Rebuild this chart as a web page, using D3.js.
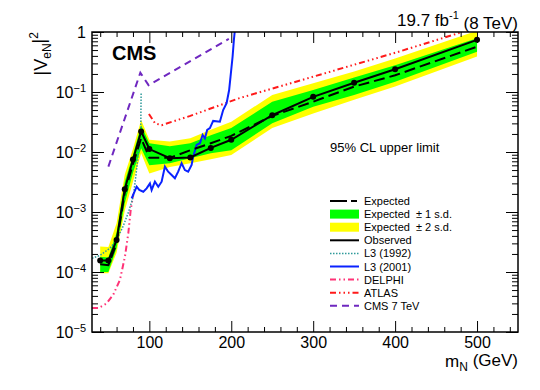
<!DOCTYPE html>
<html>
<head>
<meta charset="utf-8">
<script src="https://cdn.jsdelivr.net/npm/d3@7"></script>
<style>
body { margin: 0; background: #fff; }
text { font-family: "Liberation Sans", Arial, Helvetica, sans-serif; }
</style>
</head>
<body>
<svg id="chart" width="540" height="390"></svg>
<script>
// limits vs heavy neutrino mass (GeV)
var massPoints = [40, 50, 60, 70, 80, 90, 100, 125, 150, 175, 200, 250, 300, 350, 400, 500];
var observed = [1.55e-4, 1.55e-4, 3.4e-4, 2.4e-3, 7.5e-3, 2.2e-2, 1.12e-2, 7.9e-3, 8.1e-3, 1.17e-2, 1.6e-2, 4.1e-2, 8.3e-2, 0.143, 0.24, 0.74];
var expected = [1.35e-4, 1.3e-4, 3.0e-4, 2.1e-3, 6.3e-3, 1.7e-2, 8.0e-3, 8.0e-3, 1.07e-2, 1.4e-2, 1.86e-2, 4.0e-2, 6.9e-2, 0.123, 0.19, 0.57];
var oneSigmaLo = [1.0e-4, 1.0e-4, 2.5e-4, 1.4e-3, 4.5e-3, 1.15e-2, 6.0e-3, 6.5e-3, 7.9e-3, 9.5e-3, 1.07e-2, 3.0e-2, 5.7e-2, 8.9e-2, 0.148, 0.47];
var oneSigmaHi = [1.8e-4, 1.75e-4, 4.5e-4, 3.2e-3, 8.9e-3, 2.8e-2, 1.4e-2, 1.25e-2, 1.4e-2, 1.9e-2, 2.5e-2, 6.9e-2, 0.108, 0.174, 0.28, 0.79];
var twoSigmaLo = [9.5e-5, 9.5e-5, 2.1e-4, 1.05e-3, 3.2e-3, 9.5e-3, 4.4e-3, 5.6e-3, 6.5e-3, 7.6e-3, 8.9e-3, 2.5e-2, 4.4e-2, 7.4e-2, 0.123, 0.39];
var twoSigmaHi = [2.65e-4, 2.6e-4, 6.5e-4, 4.2e-3, 1.12e-2, 3.4e-2, 1.6e-2, 1.5e-2, 1.7e-2, 2.35e-2, 3.2e-2, 8.9e-2, 0.14, 0.22, 0.36, 1.05];

// other experiments, [mass, |V|^2]
var l3_1992 = [[30, 1.7e-4], [40, 1.9e-4], [52, 2.5e-4], [60, 3.4e-4], [68, 5.8e-4], [74, 9.5e-4], [80.4, 1.8e-3],
               [84, 4.5e-3], [87, 1.1e-2], [89.5, 2.5e-2], [90, 0.1]];
var l3_2001 = [[78.4, 1.69e-3], [84.5, 2.64e-3], [87.7, 2.33e-3], [92.6, 2.18e-3], [96.7, 2.48e-3], [100.7, 3.0e-3],
               [102.8, 2.33e-3], [106.8, 3.2e-3], [110.9, 2.64e-3], [115, 3.2e-3], [119, 5.7e-3], [123, 4.7e-3],
               [127.2, 4.14e-3], [131.2, 3.65e-3], [135.2, 4.7e-3], [139.4, 6.5e-3], [143.4, 5.0e-3], [147.4, 4.7e-3],
               [151.6, 6.07e-3], [153.5, 8.36e-3], [157.7, 1.31e-2], [161.7, 1.4e-2], [165, 1.92e-2], [167.8, 1.69e-2],
               [170.6, 2.33e-2], [173.9, 2.5e-2], [177.9, 3.3e-2], [186.1, 3.2e-2], [190.1, 5.0e-2], [194.3, 6.5e-2],
               [197.4, 0.108], [199.1, 0.18], [201.6, 0.387], [203.2, 0.736], [204.4, 1.08]];
var delphi = [[30, 2.5e-5], [37.7, 2.5e-5], [47.9, 3.0e-5], [56, 4.2e-5], [64.1, 7.4e-5], [70.2, 1.8e-4],
              [74.3, 4.4e-4], [77.2, 1.07e-3], [80.4, 2.0e-3]];
var atlas = [[99.5, 4.3e-2], [107, 3.0e-2], [115, 2.8e-2], [128, 3.2e-2], [150, 4.0e-2], [210, 7.9e-2],
             [250, 0.114], [300, 0.18], [350, 0.285], [400, 0.45], [480, 0.98]];
var cms7 = [[50, 5.7e-3], [89, 0.21], [99, 0.13], [197, 0.77]];

var xMajor = [100, 200, 300, 400, 500];
var yMajor = [1e-5, 1e-4, 1e-3, 1e-2, 1e-1, 1];
var legendLabels = ['Expected', 'Expected  \u00b1 1 s.d.', 'Expected  \u00b1 2 s.d.', 'Observed',
                    'L3 (1992)', 'L3 (2001)', 'DELPHI', 'ATLAS', 'CMS 7 TeV'];

var svg = d3.select('#chart');
var W = 540, H = 390;
var margin = {left: 92, right: 22, top: 32, bottom: 58};
var x = d3.scaleLinear().domain([30, 550]).range([margin.left, W - margin.right]);
var y = d3.scaleLog().domain([1e-5, 1]).range([H - margin.bottom, margin.top]);
var pw = x.range()[1] - x.range()[0], ph = y.range()[0] - y.range()[1];

svg.append('defs').append('clipPath').attr('id', 'plotClip')
    .append('rect').attr('x', margin.left).attr('y', margin.top).attr('width', pw).attr('height', ph);

var plot = svg.append('g').attr('clip-path', 'url(#plotClip)');

var bands = massPoints.map(function(m, i) {
    return {m: m, lo1: oneSigmaLo[i], hi1: oneSigmaHi[i], lo2: twoSigmaLo[i], hi2: twoSigmaHi[i]};
});
var area2 = d3.area().x(function(d) { return x(d.m); })
    .y0(function(d) { return y(d.lo2); }).y1(function(d) { return y(d.hi2); });
var area1 = d3.area().x(function(d) { return x(d.m); })
    .y0(function(d) { return y(d.lo1); }).y1(function(d) { return y(d.hi1); });
plot.append('path').attr('d', area2(bands)).style('fill', '#ffff00');
plot.append('path').attr('d', area1(bands)).style('fill', '#00ff00');

var line = d3.line().x(function(d) { return x(d[0]); }).y(function(d) { return y(d[1]); });

var styles = {
    expected: {stroke: 'black', width: 2, dash: '11,5'},
    observed: {stroke: 'black', width: 2, dash: null},
    l3a: {stroke: '#2f9a9a', width: 1.5, dash: '1.5,1.5'},
    l3b: {stroke: '#0a22ff', width: 2, dash: null},
    delphi: {stroke: '#ff3377', width: 2, dash: '6,3,1.5,3,1.5,3'},
    atlas: {stroke: '#ff1a1a', width: 2, dash: '6,3,1.5,3,1.5,3,1.5,3'},
    cms7: {stroke: '#6f28c0', width: 2, dash: '7,5'}
};

function drawCurve(pts, st) {
    plot.append('path')
        .attr('d', line(pts))
        .style('fill', 'none')
        .style('stroke', st.stroke)
        .style('stroke-width', st.width + 'px')
        .attr('stroke-dasharray', st.dash);
}

drawCurve(delphi, styles.delphi);
drawCurve(l3_1992, styles.l3a);
drawCurve(atlas, styles.atlas);
drawCurve(cms7, styles.cms7);
drawCurve(l3_2001, styles.l3b);

var expPts = massPoints.map(function(m, i) { return [m, expected[i]]; });
var obsPts = massPoints.map(function(m, i) { return [m, observed[i]]; });
drawCurve(expPts, styles.expected);
drawCurve(obsPts, styles.observed);
plot.selectAll('circle.obs').data(obsPts).enter().append('circle')
    .attr('class', 'obs')
    .attr('cx', function(d) { return x(d[0]); })
    .attr('cy', function(d) { return y(d[1]); })
    .attr('r', 3)
    .style('fill', 'black');

// axes, ROOT style: ticks inside, on all four sides
var xMinor = d3.range(40, 551, 20).filter(function(d) { return d % 100 !== 0; });
var yMinor = [];
[1e-5, 1e-4, 1e-3, 1e-2, 1e-1].forEach(function(p) {
    for (var k = 2; k <= 9; k++) yMinor.push(k * p);
});

function styleAxis(g) {
    g.select('.domain').remove();
    g.selectAll('line').style('stroke', 'black').style('stroke-width', '1px');
    g.attr('font-family', '"Liberation Sans", Arial, sans-serif').attr('font-size', 16);
    g.selectAll('text').style('fill', 'black');
}

var yb = y.range()[0], yt = y.range()[1], xl = x.range()[0], xr = x.range()[1];

svg.append('g').attr('transform', 'translate(0,' + yb + ')')
    .call(d3.axisBottom(x).tickValues(xMajor).tickSize(-11).tickPadding(5).tickFormat(d3.format('d')))
    .call(styleAxis);
svg.append('g').attr('transform', 'translate(0,' + yb + ')')
    .call(d3.axisBottom(x).tickValues(xMinor).tickSize(-5).tickFormat(''))
    .call(styleAxis);
svg.append('g').attr('transform', 'translate(0,' + yt + ')')
    .call(d3.axisTop(x).tickValues(xMajor).tickSize(-11).tickFormat(''))
    .call(styleAxis);
svg.append('g').attr('transform', 'translate(0,' + yt + ')')
    .call(d3.axisTop(x).tickValues(xMinor).tickSize(-5).tickFormat(''))
    .call(styleAxis);

var yAxisG = svg.append('g').attr('transform', 'translate(' + xl + ',0)')
    .call(d3.axisLeft(y).tickValues(yMajor).tickSize(-12).tickPadding(6))
    .call(styleAxis);
yAxisG.selectAll('.tick text').each(function(d) {
    var t = d3.select(this), e = Math.round(Math.log10(d));
    t.text(null);
    if (e === 0) { t.text('1'); return; }
    t.append('tspan').text('10');
    t.append('tspan').attr('dy', '-0.55em').style('font-size', '11px').text('\u2212' + (-e));
});
svg.append('g').attr('transform', 'translate(' + xl + ',0)')
    .call(d3.axisLeft(y).tickValues(yMinor).tickSize(-6).tickFormat(''))
    .call(styleAxis);
svg.append('g').attr('transform', 'translate(' + xr + ',0)')
    .call(d3.axisRight(y).tickValues(yMajor).tickSize(-12).tickFormat(''))
    .call(styleAxis);
svg.append('g').attr('transform', 'translate(' + xr + ',0)')
    .call(d3.axisRight(y).tickValues(yMinor).tickSize(-6).tickFormat(''))
    .call(styleAxis);

svg.append('rect')
    .attr('x', xl).attr('y', yt).attr('width', pw).attr('height', ph)
    .style('fill', 'none').style('stroke', 'black').style('stroke-width', '1.5px');

// axis titles
var yTitle = svg.append('text')
    .attr('transform', 'translate(47,' + yt + ') rotate(-90)')
    .attr('text-anchor', 'end')
    .style('font-size', '18px');
yTitle.append('tspan').text('|V');
yTitle.append('tspan').attr('dy', '0.3em').style('font-size', '12px').text('eN');
yTitle.append('tspan').attr('dy', '-0.3em').text('|');
yTitle.append('tspan').attr('dy', '-0.6em').style('font-size', '12px').text('2');

var xTitle = svg.append('text')
    .attr('x', xr).attr('y', 367)
    .attr('text-anchor', 'end')
    .style('font-size', '17px');
xTitle.append('tspan').text('m');
xTitle.append('tspan').attr('dy', '0.3em').style('font-size', '12px').text('N');
xTitle.append('tspan').attr('dy', '-0.3em').text(' (GeV)');

// labels
svg.append('text').attr('x', 112).attr('y', 60)
    .style('font-size', '20px').style('font-weight', 'bold').text('CMS');

var lumi = svg.append('text').attr('x', xr).attr('y', 25.5)
    .attr('text-anchor', 'end').style('font-size', '17px');
lumi.append('tspan').text('19.7 fb');
lumi.append('tspan').attr('dy', '-0.6em').style('font-size', '11px').text('-1');
lumi.append('tspan').attr('dy', '0.6em').text(' (8 TeV)');

svg.append('text').attr('x', 330).attr('y', 152)
    .style('font-size', '13px').text('95% CL upper limit');

// legend
var legStyles = [styles.expected, 'green', 'yellow', styles.observed, styles.l3a, styles.l3b,
                 styles.delphi, styles.atlas, styles.cms7];
var legX0 = 330, legX1 = 359, legY0 = 201, legStep = 13.1;
var leg = svg.append('g');
legendLabels.forEach(function(lab, i) {
    var cy = legY0 + i * legStep;
    var st = legStyles[i];
    if (st === 'green' || st === 'yellow') {
        leg.append('rect').attr('x', legX0).attr('y', cy - 4.5).attr('width', legX1 - legX0).attr('height', 9)
            .style('fill', st === 'green' ? '#00ff00' : '#ffff00');
    } else {
        leg.append('line').attr('x1', legX0).attr('x2', legX1).attr('y1', cy).attr('y2', cy)
            .style('stroke', st.stroke).style('stroke-width', st.width + 'px')
            .attr('stroke-dasharray', i === 0 ? '17,4,6' : st.dash);
    }
    leg.append('text').attr('x', legX1 + 5).attr('y', cy + 4)
        .style('font-size', '11px').style('white-space', 'pre').text(lab);
});
</script>
</body>
</html>
